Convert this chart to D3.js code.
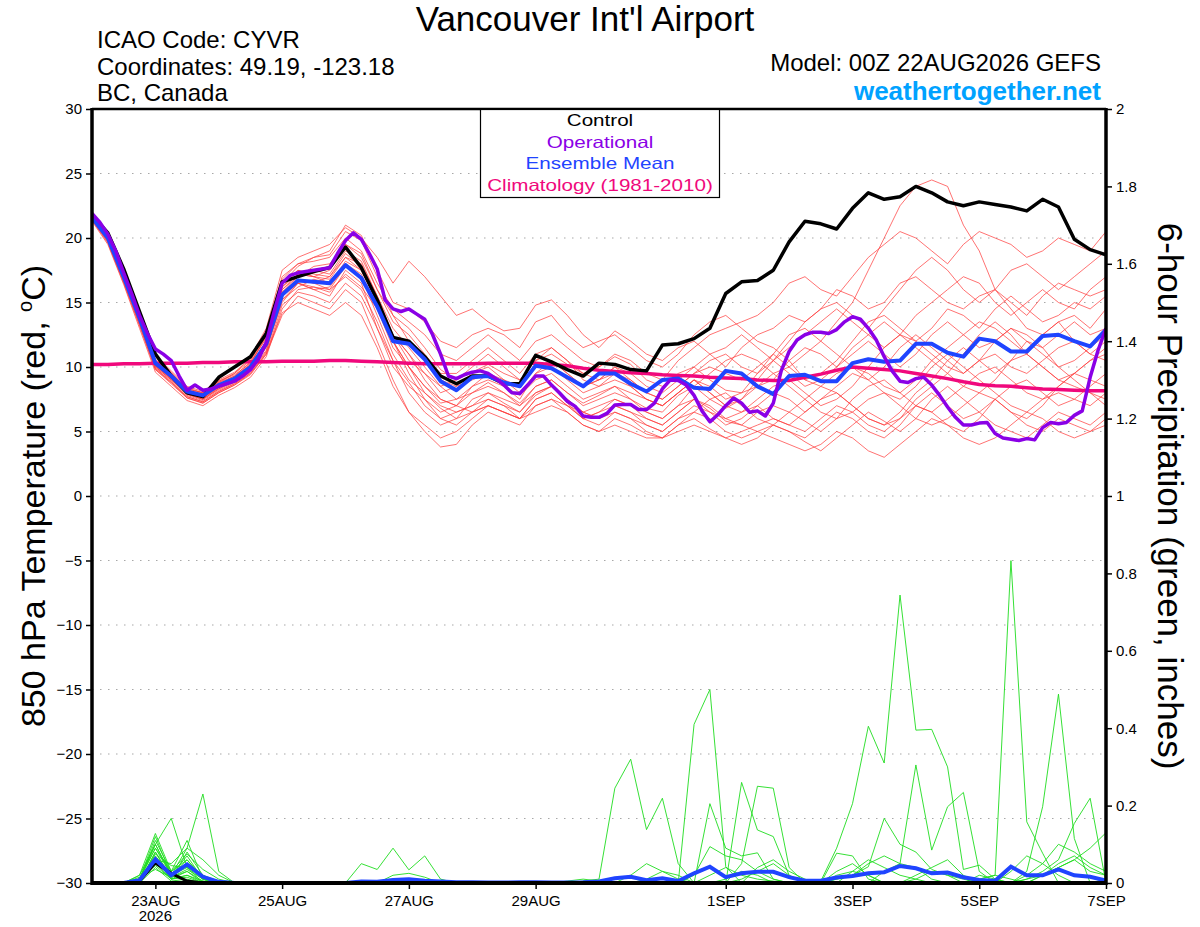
<!DOCTYPE html>
<html>
<head>
<meta charset="utf-8">
<title>Vancouver Int'l Airport - GEFS meteogram</title>
<script src="https://d3js.org/d3.v7.min.js"></script>
<style>
  body { margin: 0; background: #fff; }
  svg { display: block; font-family: "Liberation Sans", Arial, Helvetica, sans-serif; }
</style>
</head>
<body>
<div id="chart"></div>
<script>
// ---- data (6-hourly from 00Z 22AUG2026; operational is 3-hourly) ----
const runStart = Date.UTC(2026, 7, 22, 0);

const controlTemp = [21.8, 20.4, 17.6, 14.3, 11.0, 9.3, 8.0, 7.7, 9.2, 10.0, 10.8, 12.6,
  16.6, 17.0, 17.4, 17.7, 19.3, 17.7, 15.2, 12.3, 12.0, 10.8, 9.3, 8.7,
  9.3, 9.3, 8.7, 8.7, 10.9, 10.4, 9.8, 9.3, 10.3, 10.2, 9.8, 9.7,
  11.7, 11.8, 12.2, 13.0, 15.7, 16.6, 16.7, 17.5, 19.7, 21.3, 21.1, 20.7,
  22.3, 23.5, 23.0, 23.2, 24.0, 23.5, 22.8, 22.5, 22.8, 22.6, 22.4, 22.1,
  23.0, 22.4, 19.9, 19.1, 18.7];

const meanTemp = [21.6, 20.0, 17.0, 13.8, 10.3, 9.3, 8.1, 7.8, 8.6, 9.1, 10.0, 11.8,
  15.6, 16.7, 16.6, 16.5, 17.9, 16.9, 14.7, 12.0, 11.8, 10.6, 8.9, 8.2,
  9.2, 9.3, 8.8, 8.5, 10.1, 9.9, 9.2, 8.5, 9.5, 9.5, 8.7, 8.1,
  9.0, 9.1, 8.4, 8.3, 9.7, 9.5, 8.5, 7.9, 9.3, 9.4, 8.9, 8.9,
  10.3, 10.6, 10.4, 10.5, 11.8, 11.8, 11.1, 10.8, 12.2, 12.0, 11.2, 11.2,
  12.4, 12.5, 12.0, 11.6, 12.9];

const operationalTemp = [21.9, 21.2, 20.3, 19.0, 17.3, 15.7, 14.0, 12.6, 11.4, 11.0, 10.5, 9.3,
  8.2, 8.6, 8.2, 8.3, 8.5, 8.7, 8.9, 9.3, 9.8, 10.6, 11.9, 14.3,
  16.5, 17.1, 17.3, 17.4, 17.5, 17.6, 17.7, 18.8, 19.8, 20.4, 19.9, 18.8,
  17.6, 15.2, 14.5, 14.3, 14.5, 14.1, 13.7, 12.5, 11.0, 9.3, 9.1, 9.4,
  9.6, 9.7, 9.5, 9.1, 8.6, 8.0, 7.95, 8.6, 9.3, 9.3, 8.6, 8.0,
  7.35, 6.95, 6.2, 6.1, 6.1, 6.4, 7.05, 7.1, 7.1, 6.7, 6.7, 7.2,
  8.3, 9.0, 8.95, 8.6, 7.8, 6.6, 5.75, 6.3, 7.0, 7.6, 7.2, 6.5,
  6.6, 6.2, 7.2, 9.7, 11.2, 12.1, 12.5, 12.7, 12.7, 12.6, 12.9, 13.5,
  13.9, 13.7, 13.0, 12.1, 10.8, 9.7, 8.9, 8.8, 9.1, 9.2, 8.6, 7.8,
  6.9, 6.1, 5.5, 5.5, 5.65, 5.7, 4.85, 4.5, 4.4, 4.3, 4.45, 4.35,
  5.3, 5.7, 5.6, 5.7, 6.25, 6.6, 9.2, 11.3, 13.0];

const climoTemp = [10.2, 10.2, 10.25, 10.25, 10.3, 10.3, 10.3, 10.35, 10.35,
  10.4, 10.4, 10.4, 10.45, 10.45, 10.45, 10.5, 10.5,
  10.45, 10.4, 10.35, 10.3, 10.25, 10.25, 10.25, 10.25,
  10.3, 10.3, 10.3, 10.3, 10.2, 10.1, 9.9, 9.75,
  9.65, 9.55, 9.5, 9.4, 9.35, 9.3, 9.2, 9.15,
  9.1, 9.0, 8.95, 8.95, 9.2, 9.45, 9.75, 10.0,
  9.9, 9.8, 9.7, 9.5, 9.3, 9.1, 8.85, 8.65,
  8.55, 8.5, 8.4, 8.3, 8.25, 8.2, 8.15, 8.15];

const memberTemps = [
  [21.5,19.8,16.8,13.5,10.0,9.0,8.0,7.6,8.5,9.2,10.2,12.5, 16.5,17.8,18.5,18.7,20.5,19.8,17.0,14.0,13.0,11.5,9.8,
   9.0,9.6,10.2,9.5,9.0,10.5,11.0,10.2,9.5,10.0,10.8,10.2,9.0,8.5,9.5,10.0,9.0,8.2,
   8.0,9.5,11.0,12.5,13.0,12.0,13.5,15.0,17.5,20.0,22.5,24.0,24.5,24.0,21.0,19.0,16.0,14.5,13.0,12.5,13.5,12.0,11.0,10.5],
  [21.7,20.2,17.3,14.2,10.8,9.6,8.4,8.0,8.8,9.5,10.8,13.0, 17.5,18.5,19.0,19.5,20.8,20.0,18.5,16.5,18.2,17.0,15.5,
   14.0,14.5,13.5,12.8,13.0,14.8,15.2,14.0,12.5,11.5,12.8,12.0,11.0,10.5,11.5,12.0,11.0,10.0,
   11.5,12.5,13.0,14.0,13.5,14.5,16.0,15.5,14.5,15.0,16.5,17.0,16.0,15.0,14.5,15.5,16.0,15.0,14.0,15.5,16.5,16.0,15.5,16.0],
  [21.4,19.6,16.5,13.2,9.8,8.7,7.6,7.2,8.0,8.6,9.5,11.0, 14.0,15.5,15.0,14.5,16.0,15.0,12.0,9.0,6.5,5.0,3.8,
   4.0,5.5,6.5,6.0,5.5,7.0,7.5,6.5,5.5,5.0,6.0,5.5,4.8,4.5,5.5,6.0,5.2,4.5,
   4.0,4.5,5.5,5.0,4.2,3.5,4.5,5.5,6.5,5.8,5.0,6.0,7.5,8.5,7.5,6.5,5.5,5.0,4.5,5.5,6.5,6.0,5.5,6.5],
  [21.8,20.1,17.0,13.9,10.4,9.4,8.2,7.9,8.7,9.3,10.4,12.2, 16.0,17.2,17.0,16.8,18.5,18.0,15.5,13.0,11.5,10.0,8.5,
   7.5,8.0,8.8,8.0,7.2,8.5,9.0,8.0,7.2,7.8,8.5,7.5,6.8,6.5,7.8,8.5,7.5,6.8,
   7.5,8.5,9.0,10.5,11.5,11.0,10.0,11.5,12.5,13.5,12.5,12.0,13.0,14.5,14.0,13.0,14.5,15.5,14.5,13.5,14.0,15.0,14.5,15.5],
  [21.3,19.5,16.4,13.0,9.6,8.5,7.4,7.0,7.8,8.4,9.2,10.8, 14.5,16.0,16.2,16.0,17.0,16.0,13.5,10.5,8.0,6.5,5.5,
   6.0,7.5,8.0,7.2,6.5,7.8,8.5,7.2,6.0,6.5,7.5,7.0,6.0,5.5,6.5,7.5,6.8,5.8,
   5.5,6.5,7.0,6.5,5.8,5.0,6.0,7.5,8.5,9.0,8.0,7.0,6.5,7.5,8.5,9.5,10.0,9.0,8.0,7.5,8.5,9.5,9.0,8.5],
  [21.9,20.3,17.4,14.3,10.9,9.7,8.5,8.1,9.0,9.6,10.6,12.8, 17.0,18.0,18.2,18.5,20.0,19.0,16.5,14.5,13.5,12.5,11.0,
   10.5,11.5,12.5,11.5,10.5,12.0,12.5,11.5,10.5,10.0,11.0,10.5,9.5,9.0,10.5,11.5,12.5,13.0,
   13.5,14.0,15.0,16.5,17.0,16.0,15.5,17.0,18.5,19.5,20.5,20.0,19.0,18.0,19.5,20.5,20.0,19.5,18.5,19.0,20.0,19.5,19.0,20.5],
  [21.6,20.0,16.9,13.6,10.1,9.1,7.9,7.5,8.3,8.9,9.8,11.5, 15.0,16.5,16.0,15.5,17.5,16.5,13.0,10.0,8.5,7.5,6.5,
   7.0,8.5,9.5,8.5,7.5,9.5,10.0,9.0,8.0,8.5,9.5,8.5,7.5,7.0,8.0,9.0,8.0,7.0,
   6.5,7.0,6.0,5.5,6.5,7.5,8.0,7.0,6.0,5.5,6.5,8.0,9.0,10.5,11.5,10.5,9.5,10.5,12.0,11.5,10.0,9.0,8.0,7.0],
  [21.7,20.1,17.1,13.9,10.3,9.2,8.0,7.7,8.5,9.1,10.1,12.0, 16.8,18.0,18.5,19.0,21.0,20.2,17.5,15.0,14.5,13.5,12.0,
   11.5,12.5,13.0,12.5,11.5,13.5,14.0,12.5,11.5,12.0,12.5,11.5,10.5,10.0,11.0,12.5,13.5,14.0,
   13.0,12.0,11.5,10.5,9.0,8.5,9.5,10.0,9.5,8.5,8.0,9.0,10.5,11.5,12.5,13.5,13.0,12.0,11.0,12.5,13.5,14.0,13.0,14.5],
  [21.5,19.9,16.8,13.5,10.0,9.0,7.8,7.4,8.2,8.8,9.7,11.3, 15.5,16.8,16.5,16.0,17.8,17.0,14.0,11.0,9.0,8.0,7.0,
   6.5,7.0,7.5,7.0,6.5,8.0,8.5,7.5,6.5,7.0,7.5,7.0,6.5,6.0,7.0,8.5,9.5,10.5,
   11.0,10.5,9.5,8.5,7.5,6.5,6.0,6.5,7.5,8.0,7.0,6.0,5.5,6.0,7.0,8.0,7.5,6.5,6.0,7.0,8.5,9.5,10.5,11.5],
  [21.8,20.2,17.2,14.0,10.5,9.5,8.3,8.0,8.9,9.4,10.3,12.3, 16.2,17.5,17.2,17.0,18.8,17.8,15.0,12.5,11.0,9.5,8.0,
   8.5,9.5,10.0,9.0,8.0,9.5,10.5,9.5,8.5,9.0,10.0,9.5,8.5,8.0,9.0,10.0,11.0,11.5,
   12.5,11.5,10.5,9.5,8.5,9.0,10.0,11.0,12.0,11.0,10.0,11.0,12.5,13.5,12.5,11.5,12.0,13.0,12.5,11.5,12.5,13.5,12.5,13.0],
  [21.4,19.7,16.6,13.3,9.9,8.8,7.7,7.3,8.1,8.7,9.6,11.2, 15.2,16.5,16.2,15.8,17.2,16.2,14.5,12.0,10.0,8.5,7.5,
   7.0,6.5,7.0,6.5,6.0,7.5,8.0,7.0,6.0,6.5,7.0,6.5,5.5,5.0,6.0,6.5,6.0,5.0,
   4.5,5.0,4.5,4.0,3.5,4.0,5.0,4.5,3.5,3.0,4.0,5.0,6.0,5.5,4.5,4.0,4.5,5.5,6.5,6.0,5.0,4.5,5.0,5.5],
  [21.6,20.0,17.0,13.7,10.2,9.2,8.0,7.6,8.4,9.0,9.9,11.7, 15.8,17.0,17.5,17.2,19.0,18.2,15.5,12.5,10.5,9.5,8.5,
   9.0,10.0,11.0,10.0,9.0,10.5,11.5,10.5,9.0,8.5,9.0,8.5,7.5,7.0,8.0,9.0,8.0,7.0,
   7.5,9.0,10.5,12.0,13.5,14.5,15.0,14.0,13.0,14.5,16.0,17.5,18.5,17.5,16.0,15.0,16.0,17.5,18.0,17.0,16.0,17.0,18.0,19.0],
  [21.5,19.8,16.7,13.4,9.9,8.9,7.7,7.3,8.1,8.7,9.5,11.1, 14.2,15.0,14.5,14.0,15.0,14.0,11.5,8.5,6.5,5.5,4.5,
   5.0,6.0,7.0,6.5,6.0,7.5,8.0,7.0,6.0,5.5,6.5,6.0,5.0,4.5,5.5,6.5,7.5,8.0,
   7.0,6.0,5.5,5.0,4.5,5.5,6.5,6.0,5.0,4.5,5.5,7.0,8.0,7.0,6.0,6.5,7.5,8.5,9.0,8.0,7.0,7.5,8.5,9.5],
  [21.7,20.1,17.1,13.9,10.4,9.4,8.2,7.9,8.8,9.3,10.2,12.0, 16.5,17.5,17.0,16.5,18.0,17.2,14.5,11.5,10.0,8.5,7.2,
   7.5,8.5,9.0,8.5,7.8,9.0,9.5,8.5,7.5,8.0,8.5,8.0,7.5,7.0,8.0,9.0,8.5,7.5,
   8.0,8.5,9.5,10.0,11.0,12.0,11.0,10.0,9.0,10.0,11.5,12.5,11.5,10.5,9.5,10.5,11.0,10.0,9.5,10.5,11.5,12.0,11.0,12.0],
  [21.6,20.0,16.9,13.6,10.1,9.1,7.9,7.5,8.4,9.0,9.9,11.6, 15.2,16.2,16.8,16.5,18.2,17.5,15.0,12.0,9.5,7.5,6.0,
   6.5,7.0,8.0,7.5,7.0,8.5,9.0,8.0,7.0,7.5,8.0,7.5,6.5,6.0,7.0,7.5,6.5,5.5,
   6.0,7.0,8.0,7.5,6.5,7.5,8.5,9.5,9.0,8.0,7.5,8.5,10.0,11.0,10.0,9.0,8.0,7.0,6.5,7.5,8.0,7.5,7.0,8.0],
  [21.8,20.2,17.2,14.1,10.6,9.5,8.3,8.0,8.9,9.5,10.5,12.4, 16.0,17.0,17.8,18.0,19.5,18.8,16.0,13.5,12.5,11.0,9.5,
   9.5,10.5,11.5,10.5,9.5,11.0,11.5,10.5,9.5,9.0,10.0,9.0,8.0,7.5,8.5,9.5,10.5,11.0,
   10.0,9.5,10.5,11.5,12.5,13.5,14.5,13.5,12.5,11.5,12.5,14.0,15.0,16.0,17.0,16.5,15.0,14.0,15.0,16.0,15.0,14.5,16.0,17.0],
  [21.4,19.7,16.6,13.3,9.8,8.8,7.6,7.2,8.0,8.6,9.4,11.0, 14.8,15.8,15.5,15.0,16.5,15.5,13.0,10.5,8.8,7.0,6.0,
   5.5,6.5,7.5,7.0,6.0,6.5,7.0,6.5,5.5,5.0,5.5,5.0,4.5,4.5,5.0,5.5,5.0,4.5,
   5.0,5.5,6.0,5.5,5.0,6.0,7.0,6.5,5.5,5.0,6.0,7.0,6.5,5.5,5.0,6.0,7.5,6.5,5.5,5.0,6.0,5.5,5.0,6.0],
  [21.7,20.0,17.0,13.8,10.3,9.3,8.1,7.7,8.6,9.2,10.1,11.9, 16.2,17.2,17.0,17.5,19.5,18.5,16.0,14.0,12.0,10.5,9.0,
   8.5,9.0,9.5,9.0,8.5,10.0,10.5,9.5,8.5,9.0,9.5,9.0,8.0,7.5,8.5,9.5,10.0,9.5,
   9.0,10.0,11.0,10.0,9.0,9.5,10.5,12.0,13.5,14.0,13.0,12.0,11.0,10.0,9.5,10.5,12.0,13.0,12.0,11.0,10.0,10.5,11.5,12.5],
  [21.5,19.9,16.9,13.6,10.1,9.1,7.9,7.5,8.3,8.9,9.8,11.6, 15.5,16.5,16.0,16.2,17.8,17.0,14.5,12.5,11.0,9.0,7.5,
   7.0,8.0,8.5,8.0,7.0,8.0,8.5,7.5,6.5,6.0,7.0,6.5,6.0,5.5,6.5,7.5,7.0,6.0,
   6.5,7.5,8.5,9.0,8.0,7.0,7.5,8.5,10.0,11.5,12.5,11.5,10.5,9.5,8.5,8.0,9.0,10.5,11.0,10.0,9.0,9.5,10.5,11.0],
  [21.6,20.1,17.0,13.7,10.2,9.2,8.0,7.6,8.5,9.1,10.0,11.8, 15.8,16.8,16.5,17.0,18.5,17.5,15.0,12.0,10.0,8.0,6.8,
   6.0,6.5,7.0,6.5,6.0,7.0,7.5,7.0,6.5,6.0,6.5,6.0,5.5,5.0,6.0,7.0,6.5,6.0,
   5.5,5.0,5.5,6.5,7.5,8.5,8.0,7.0,6.0,5.5,6.0,7.5,8.5,9.5,11.0,12.5,13.5,12.5,11.0,10.0,9.0,8.5,8.0,7.5]
];

// 6-hour precipitation (inches)
const controlPrecip = [0,0,0,0.005,0.052,0.025,0.005,0,0,0,0,0,0, 0,0,0,0,0,0,0,0,0,0,0,0,0,
  0,0,0,0,0,0,0,0,0,0,0,0,0, 0,0,0,0,0,0,0,0,0,0,0,0,0, 0,0,0,0,0,0,0,0,0,0,0,0,0];

const meanPrecip = [0,0,0,0.007,0.061,0.02,0.048,0.016,0.003,0,0,0,0,
  0,0,0,0,0.004,0.003,0.008,0.01,0.006,0.004,0.002,0.002,0.001,
  0.001,0.002,0.002,0.001,0.001,0.002,0.004,0.012,0.016,0.007,0.012,0.005,0.025,
  0.042,0.015,0.025,0.029,0.029,0.015,0.006,0.006,0.014,0.018,0.025,0.028,0.044,
  0.038,0.025,0.027,0.015,0.008,0.006,0.042,0.02,0.02,0.035,0.02,0.016,0.006];

const memberPrecips = [
  [0,0,0,0.01,0.06,0.05,0.09,0.23,0.03,0,0,0,0, 0,0,0,0,0,0,0,0,0,0,0,0,0,
   0,0,0,0,0,0.005,0.01,0.245,0.32,0.138,0.219,0.05,0, 0,0,0,0,0,0,0,0,0,0,0,0,0, 0,0,0,0,0,0,0,0,0,0,0,0,0],
  [0,0,0,0.02,0.1,0.167,0.04,0.02,0,0,0,0,0, 0,0,0,0,0,0,0,0,0,0,0,0,0,
   0,0,0,0,0,0,0,0,0,0,0,0,0.41, 0.5,0.042,0,0,0,0,0,0,0,0,0,0,0, 0,0,0,0,0,0,0,0,0,0,0,0,0],
  [0,0,0,0.02,0.128,0.03,0.11,0.01,0,0,0,0,0, 0,0,0,0,0,0,0,0,0,0,0,0,0,
   0,0,0,0,0,0,0,0,0,0,0,0,0, 0,0,0,0,0,0,0,0.005,0.09,0.205,0.405,0.31,0.744, 0.395,0.397,0.3,0.035,0.046,0.01,0,0,0,0,0,0,0],
  [0,0,0,0.01,0.12,0.02,0.09,0.06,0.02,0,0,0,0, 0,0,0,0,0,0,0,0,0,0,0,0,0,
   0,0,0,0,0,0,0,0,0,0,0,0,0, 0.205,0.09,0.07,0.078,0.01,0,0,0,0,0,0,0,0, 0,0,0,0,0,0,0,0,0,0,0,0,0],
  [0,0,0,0.005,0.11,0.03,0.075,0.035,0.01,0,0,0,0, 0,0,0,0,0,0,0,0,0,0,0,0,0,
   0,0,0,0,0,0,0,0,0,0,0,0,0, 0,0,0.26,0.137,0.12,0.02,0,0,0,0,0,0,0, 0,0,0,0,0,0,0,0,0,0,0,0,0],
  [0,0,0,0.01,0.09,0.02,0.06,0.01,0,0,0,0,0, 0,0,0,0,0,0,0,0,0,0,0,0,0,
   0,0,0,0,0,0,0,0,0,0,0,0,0, 0,0,0.05,0.25,0.245,0.04,0,0,0,0,0,0,0, 0,0,0,0,0,0,0,0,0,0,0,0,0],
  [0,0,0,0,0.075,0.045,0.04,0.01,0,0,0,0,0, 0,0,0,0,0.05,0.035,0.09,0.034,0.07,0.01,0,0,0,
   0,0,0,0,0,0,0,0,0,0,0,0,0, 0,0,0,0,0,0,0,0,0,0,0,0,0, 0,0,0,0,0,0,0,0,0,0,0,0,0],
  [0,0,0,0.01,0.045,0.01,0.02,0.005,0,0,0,0,0, 0,0,0,0,0,0,0,0,0,0,0,0,0,
   0,0,0,0,0,0,0,0,0,0,0,0,0, 0,0,0,0,0,0,0,0,0.01,0.02,0.05,0.07,0.05, 0.305,0.085,0.197,0.234,0.03,0,0,0,0,0,0,0,0],
  [0,0,0,0.015,0.035,0.015,0.035,0.01,0,0,0,0,0, 0,0,0,0,0,0,0,0,0,0,0,0,0,
   0,0,0,0,0,0,0,0,0,0,0,0,0, 0,0,0,0,0,0,0,0,0.01,0.02,0.042,0.167,0.1, 0.08,0.035,0.02,0.01,0,0,0,0,0,0,0,0,0],
  [0,0,0,0,0.06,0.01,0.02,0,0,0,0,0,0, 0,0,0,0,0,0,0.02,0.025,0.015,0,0,0,0,
   0,0,0,0,0,0,0,0,0,0,0,0,0, 0,0,0,0,0,0,0,0,0,0,0,0,0, 0,0,0,0,0.01,0.02,0.833,0.158,0.077,0,0,0,0],
  [0,0,0,0.01,0.1,0.02,0.05,0.01,0,0,0,0,0, 0,0,0,0,0,0,0,0,0,0,0,0,0,
   0,0,0,0,0,0,0,0,0,0,0,0,0, 0,0,0,0,0,0,0,0,0,0,0,0,0, 0,0,0,0,0,0,0,0.03,0.197,0.488,0.115,0,0],
  [0,0,0,0,0.08,0.015,0.03,0,0,0,0,0,0, 0,0,0,0,0,0,0,0,0,0,0,0,0,
   0,0,0,0,0,0,0,0,0,0,0,0,0, 0,0,0,0,0,0,0,0,0,0,0,0,0, 0,0,0,0,0,0,0,0.01,0.03,0.06,0.154,0.219,0],
  [0,0,0,0.005,0.05,0.01,0.015,0,0,0,0,0,0, 0,0,0,0,0,0,0,0,0,0,0,0,0,
   0,0,0,0,0,0,0,0,0,0,0,0,0, 0,0,0,0,0,0,0,0,0,0,0,0,0, 0,0,0,0,0,0,0,0,0.02,0.04,0.06,0.09,0.13],
  [0,0,0,0.01,0.07,0.02,0.05,0.02,0,0,0,0,0, 0,0,0,0,0,0,0,0,0,0,0,0,0,
   0,0,0,0,0,0,0,0,0,0,0,0,0.02, 0.094,0.07,0.06,0.03,0.01,0,0,0,0,0,0,0,0, 0,0,0,0,0,0,0,0,0,0,0,0,0],
  [0,0,0,0,0.04,0.005,0.01,0,0,0,0,0,0, 0,0,0,0,0,0,0,0,0,0,0,0,0,
   0,0,0,0,0,0,0,0,0,0,0,0,0, 0,0,0.01,0.03,0.05,0.02,0,0,0.077,0.07,0.01,0,0, 0,0,0,0,0.01,0.02,0.01,0,0,0,0,0,0],
  [0,0,0,0.01,0.09,0.03,0.06,0.015,0,0,0,0,0, 0,0,0,0,0,0,0,0,0,0,0,0,0,
   0,0,0,0,0.005,0.01,0.005,0,0.02,0.05,0.03,0.01,0, 0.02,0.04,0.02,0.01,0.005,0,0,0,0,0.03,0.06,0.04,0.02, 0.01,0,0,0,0,0,0,0,0.02,0.05,0.07,0.04,0.02],
  [0,0,0,0,0.06,0.02,0.04,0,0,0,0,0,0, 0,0,0,0,0,0,0,0,0,0,0,0,0,
   0,0,0,0,0,0,0,0,0,0,0,0,0, 0,0,0,0.04,0.06,0.03,0.01,0,0.03,0.05,0.02,0,0, 0.01,0.03,0.02,0,0,0,0,0.02,0.05,0.1,0.08,0.05,0.03],
  [0,0,0,0.005,0.08,0.01,0.08,0.02,0.005,0,0,0,0, 0,0,0,0,0,0,0,0,0,0,0,0,0,
   0,0,0,0,0,0,0,0,0,0.01,0.03,0.02,0, 0,0.01,0.03,0.02,0,0,0,0,0,0,0,0.03,0.05, 0.04,0.01,0,0,0,0,0.03,0.07,0.05,0.02,0,0,0.01],
  [0,0,0,0.01,0.1,0.02,0.07,0.01,0,0,0,0,0, 0,0,0,0,0,0,0,0,0,0,0,0,0,
   0,0,0,0,0,0,0,0,0,0,0,0,0, 0,0,0,0,0,0,0,0,0,0,0,0,0, 0,0,0,0,0.02,0.01,0,0.01,0.02,0.04,0.06,0.03,0.02],
  [0,0,0,0,0.065,0.01,0.03,0.005,0,0,0,0,0, 0,0,0,0,0,0,0,0,0,0,0,0,0,
   0,0,0,0,0,0,0,0,0,0,0,0,0, 0,0,0,0,0,0,0,0,0.02,0.03,0.02,0,0, 0.02,0.04,0.06,0.02,0,0,0,0,0,0,0,0,0]
];

const tickDates = ["2026-08-23", "2026-08-25", "2026-08-27", "2026-08-29",
  "2026-09-01", "2026-09-03", "2026-09-05", "2026-09-07"];
const tickLabels = ["23AUG", "25AUG", "27AUG", "29AUG", "1SEP", "3SEP", "5SEP", "7SEP"];
const tempTicks = [-30, -25, -20, -15, -10, -5, 0, 5, 10, 15, 20, 25, 30];
const precipTicks = [0, 0.2, 0.4, 0.6, 0.8, 1, 1.2, 1.4, 1.6, 1.8, 2];

const legendItems = [
  { label: "Control", color: "#000000" },
  { label: "Operational", color: "#8a00e6" },
  { label: "Ensemble Mean", color: "#1f44ff" },
  { label: "Climatology (1981-2010)", color: "#f0087c" }
];

// ---- layout ----
const W = 1200, H = 927;
const plot = { left: 92, right: 1106, top: 109, bottom: 883 };

const svg = d3.select("#chart").append("svg")
  .attr("width", W).attr("height", H);

const HOUR = 3600 * 1000;
const times6 = d3.range(controlTemp.length).map(i => new Date(runStart + i * 6 * HOUR));
const times3 = d3.range(operationalTemp.length).map(i => new Date(runStart + i * 3 * HOUR));

const x = d3.scaleUtc()
  .domain([new Date(runStart), new Date(runStart + 16 * 24 * HOUR)])
  .range([plot.left, plot.right]);
const yT = d3.scaleLinear().domain([-30, 30]).range([plot.bottom, plot.top]);
const yP = d3.scaleLinear().domain([0, 2]).range([plot.bottom, plot.top]);

// grid lines (dotted) at temperature ticks
svg.append("g")
  .selectAll("line")
  .data(tempTicks.filter(d => d > -30 && d < 30))
  .join("line")
  .attr("x1", plot.left).attr("x2", plot.right)
  .attr("y1", d => yT(d)).attr("y2", d => yT(d))
  .attr("stroke", "#a8a8a8")
  .attr("stroke-width", 1.2)
  .attr("stroke-dasharray", "1.5,6.5");

svg.append("clipPath").attr("id", "plotclip")
  .append("rect")
  .attr("x", plot.left).attr("y", plot.top)
  .attr("width", plot.right - plot.left).attr("height", plot.bottom - plot.top);

const g = svg.append("g").attr("clip-path", "url(#plotclip)");

const tLine6 = d3.line().x((d, i) => x(times6[i])).y(d => yT(d));
const tLine3 = d3.line().x((d, i) => x(times3[i])).y(d => yT(d));
const pLine6 = d3.line().x((d, i) => x(times6[i])).y(d => yP(d));

// ensemble members (temperature)
g.append("g").selectAll("path")
  .data(memberTemps)
  .join("path")
  .attr("d", tLine6)
  .attr("fill", "none")
  .attr("stroke", "#ff3b3b")
  .attr("stroke-opacity", 0.8)
  .attr("stroke-width", 0.9);

// ensemble members (precipitation)
g.append("g").selectAll("path")
  .data(memberPrecips)
  .join("path")
  .attr("d", pLine6)
  .attr("fill", "none")
  .attr("stroke", "#1fdc1f")
  .attr("stroke-width", 0.9);

// control & mean precipitation
g.append("path").datum(controlPrecip)
  .attr("d", pLine6).attr("fill", "none")
  .attr("stroke", "#000").attr("stroke-width", 3);
g.append("path").datum(meanPrecip)
  .attr("d", pLine6).attr("fill", "none")
  .attr("stroke", "#1f44ff").attr("stroke-width", 4);

// climatology, control, mean, operational
g.append("path").datum(climoTemp)
  .attr("d", tLine6).attr("fill", "none")
  .attr("stroke", "#f0087c").attr("stroke-width", 3.5);
g.append("path").datum(controlTemp)
  .attr("d", tLine6).attr("fill", "none")
  .attr("stroke", "#000").attr("stroke-width", 3.5)
  .attr("stroke-linejoin", "round");
g.append("path").datum(meanTemp)
  .attr("d", tLine6).attr("fill", "none")
  .attr("stroke", "#1f44ff").attr("stroke-width", 4)
  .attr("stroke-linejoin", "round");
g.append("path").datum(operationalTemp)
  .attr("d", tLine3).attr("fill", "none")
  .attr("stroke", "#8a00e6").attr("stroke-width", 3.5)
  .attr("stroke-linejoin", "round");

// ---- axes ----
const leftAxis = svg.append("g")
  .attr("transform", `translate(${plot.left},0)`)
  .call(d3.axisLeft(yT).tickValues(tempTicks).tickSize(6).tickPadding(4));
const rightAxis = svg.append("g")
  .attr("transform", `translate(${plot.right},0)`)
  .call(d3.axisRight(yP).tickValues(precipTicks).tickSize(6).tickPadding(4)
    .tickFormat(d => (d === 0 || d === 1 || d === 2) ? String(d) : d3.format(".1f")(d)));
const bottomAxis = svg.append("g")
  .attr("transform", `translate(0,${plot.bottom})`)
  .call(d3.axisBottom(x).tickValues(tickDates.map(s => new Date(s + "T00:00:00Z")))
    .tickSize(6).tickPadding(6)
    .tickFormat((d, i) => tickLabels[i]));

[leftAxis, rightAxis, bottomAxis].forEach(a => {
  a.select(".domain").remove();
  a.selectAll(".tick line").attr("stroke", "#000").attr("stroke-width", 1.5);
  a.selectAll(".tick text")
    .attr("fill", "#000")
    .style("font-family", "'Liberation Sans', Arial, sans-serif")
    .style("font-size", "15px");
});

// year under first date label
svg.append("text")
  .attr("x", x(new Date(tickDates[0] + "T00:00:00Z")))
  .attr("y", 921)
  .attr("text-anchor", "middle")
  .style("font-size", "15px")
  .text("2026");

// frame
svg.append("line").attr("x1", plot.left).attr("x2", plot.right)
  .attr("y1", plot.top).attr("y2", plot.top)
  .attr("stroke", "#000").attr("stroke-width", 2.5);
svg.append("line").attr("x1", plot.left).attr("x2", plot.right)
  .attr("y1", plot.bottom).attr("y2", plot.bottom)
  .attr("stroke", "#000").attr("stroke-width", 4);
svg.append("line").attr("x1", plot.left).attr("x2", plot.left)
  .attr("y1", plot.top - 1).attr("y2", plot.bottom + 2)
  .attr("stroke", "#000").attr("stroke-width", 3.5);
svg.append("line").attr("x1", plot.right).attr("x2", plot.right)
  .attr("y1", plot.top - 1).attr("y2", plot.bottom + 2)
  .attr("stroke", "#000").attr("stroke-width", 3.5);

// ---- legend ----
const legend = svg.append("g");
legend.append("rect")
  .attr("x", 480.5).attr("y", 109.5)
  .attr("width", 239).attr("height", 88)
  .attr("fill", "#fff").attr("stroke", "#000").attr("stroke-width", 1.2);
legend.selectAll("text")
  .data(legendItems)
  .join("text")
  .attr("transform", (d, i) => `translate(600,${126 + i * 21.5}) scale(1.25,1)`)
  .attr("text-anchor", "middle")
  .attr("fill", d => d.color)
  .style("font-size", "16.5px")
  .text(d => d.label);

// ---- titles ----
svg.append("text")
  .attr("x", 585).attr("y", 31)
  .attr("text-anchor", "middle")
  .style("font-size", "35px")
  .text("Vancouver Int'l Airport");

const infoLeft = ["ICAO Code: CYVR", "Coordinates: 49.19, -123.18", "BC, Canada"];
svg.append("g").selectAll("text")
  .data(infoLeft)
  .join("text")
  .attr("x", 97)
  .attr("y", (d, i) => 48 + i * 26.5)
  .style("font-size", "24px")
  .text(d => d);

svg.append("text")
  .attr("x", 1101).attr("y", 71)
  .attr("text-anchor", "end")
  .style("font-size", "24px")
  .text("Model: 00Z 22AUG2026 GEFS");
svg.append("text")
  .attr("x", 1101).attr("y", 100)
  .attr("text-anchor", "end")
  .attr("fill", "#00a2ff")
  .style("font-size", "26px")
  .style("font-weight", "bold")
  .text("weathertogether.net");

// axis titles
const leftTitle = svg.append("text")
  .attr("transform", `translate(45,${(plot.top + plot.bottom) / 2}) rotate(-90)`)
  .attr("text-anchor", "middle")
  .style("font-size", "34px");
leftTitle.append("tspan").text("850 hPa Temperature (red, ");
leftTitle.append("tspan").attr("dy", -13).style("font-size", "20px").text("o");
leftTitle.append("tspan").attr("dy", 13).text("C)");

svg.append("text")
  .attr("transform", `translate(1158,${(plot.top + plot.bottom) / 2}) rotate(90)`)
  .attr("text-anchor", "middle")
  .style("font-size", "35px")
  .text("6-hour Precipitation (green, inches)");
</script>
</body>
</html>
